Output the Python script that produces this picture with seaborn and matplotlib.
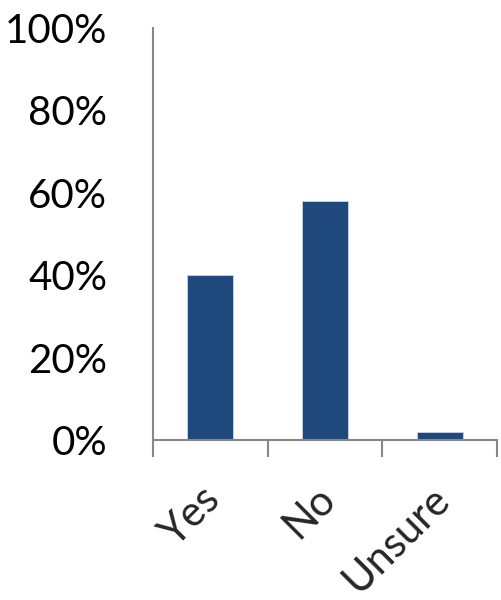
import matplotlib
matplotlib.use("Agg")
import matplotlib.pyplot as plt
import matplotlib.transforms as mtransforms
import seaborn as sns
import pandas as pd

# Survey responses (share of respondents)
categories = ["Yes", "No", "Unsure"]
shares = [0.40, 0.58, 0.02]
y_ticks = [0.0, 0.2, 0.4, 0.6, 0.8, 1.0]
y_tick_labels = ["0%", "20%", "40%", "60%", "80%", "100%"]

sns.set_style("white")
plt.rcParams["font.family"] = ["Lato", "DejaVu Sans"]

bar_color = "#1f497d"
axis_gray = "#878787"

df = pd.DataFrame({"answer": categories, "share": shares})

fig = plt.figure(figsize=(5.01, 6.0), dpi=100)
ax = fig.add_axes([0.3054, 0.2667, 0.6866, 0.6867])

sns.barplot(data=df, x="answer", y="share", color=bar_color, width=0.4,
            saturation=1, edgecolor="#c9d6ea", linewidth=0.6, ax=ax)

ax.set_xlim(-0.5, len(categories) - 0.5)
ax.set_ylim(0, 1)
ax.set_xlabel("")
ax.set_ylabel("")

# y axis: labels only, no tick marks
ax.set_yticks(y_ticks)
ax.set_yticklabels(y_tick_labels, fontsize=29, color="black")
ax.tick_params(axis="y", left=True, length=0, pad=33)

# x axis: tick marks at category boundaries, labels at category centres
n = len(categories)
ax.set_xticks([i - 0.5 for i in range(n + 1)])
ax.set_xticklabels([""] * (n + 1))
ax.tick_params(axis="x", which="major", bottom=True, length=12, width=1.5,
               color=axis_gray, direction="out")
ax.set_xticks(range(n), minor=True)
ax.set_xticklabels(categories, minor=True, fontsize=30, rotation=45,
                   ha="right", va="center", rotation_mode="anchor")
ax.tick_params(axis="x", which="minor", bottom=True, length=0, pad=38)

offset = mtransforms.ScaledTranslation(3 / 72, 0, fig.dpi_scale_trans)
for lbl in ax.get_xticklabels(minor=True):
    lbl.set_transform(lbl.get_transform() + offset)

for side in ("top", "right"):
    ax.spines[side].set_visible(False)
for side in ("left", "bottom"):
    ax.spines[side].set_color(axis_gray)
    ax.spines[side].set_linewidth(1.5)

fig.savefig("out.png", dpi=100)
